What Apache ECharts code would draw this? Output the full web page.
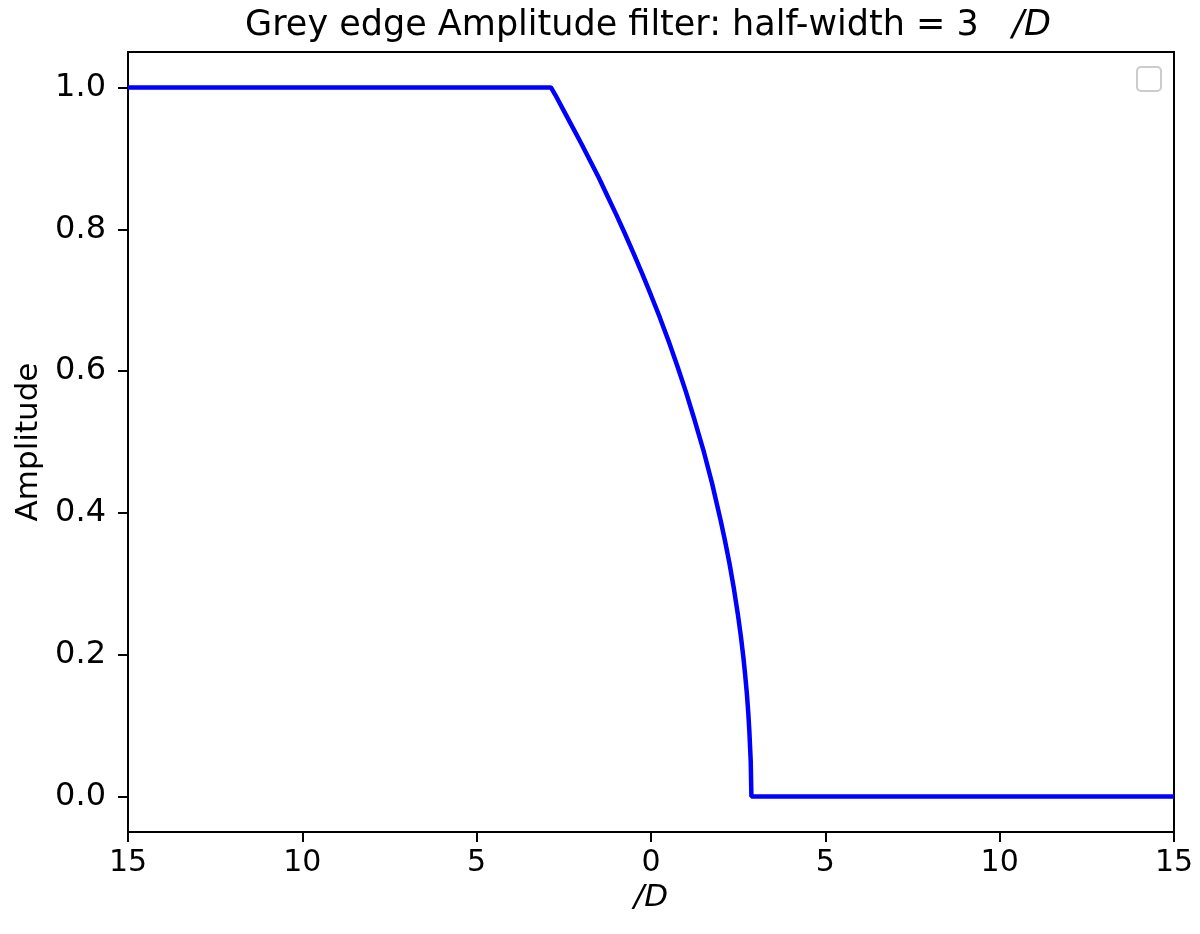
<!DOCTYPE html>
<html>
<head>
<meta charset="utf-8">
<script src="https://cdn.jsdelivr.net/npm/echarts@6/dist/echarts.min.js"></script>
<style>html,body{margin:0;padding:0;background:#fff}#c{width:1200px;height:934px}</style>
</head>
<body>
<div id="c"></div>
<script>
// Data
const xValues = [-15, -2.87, -2.75, -2.5, -2.25, -2.0, -1.75, -1.5, -1.25, -1.0, -0.75, -0.5, -0.25, 0.0, 0.25, 0.5, 0.75, 1.0, 1.25, 1.5, 1.75, 2.0, 2.125, 2.25, 2.375, 2.5, 2.58, 2.65, 2.7, 2.75, 2.79, 2.82, 2.86, 2.88, 15];
const amplitude = [1.0, 1.0, 0.990, 0.967, 0.944, 0.921, 0.897, 0.873, 0.847, 0.821, 0.794, 0.766, 0.737, 0.707, 0.676, 0.643, 0.608, 0.571, 0.531, 0.489, 0.442, 0.389, 0.360, 0.329, 0.294, 0.254, 0.225, 0.196, 0.172, 0.145, 0.118, 0.093, 0.05, 0.0, 0.0];
const yTicks = [0.0, 0.2, 0.4, 0.6, 0.8, 1.0];
const xTicks = [-15, -10, -5, 0, 5, 10, 15];

const chart = echarts.init(document.getElementById('c'), null, {renderer: 'canvas'});
const font = 'DejaVu Sans';
const pts = xValues.map((x, i) => [x, amplitude[i]]);
chart.setOption({
  animation: false,
  backgroundColor: '#fff',
  title: {
    text: '{n|Grey edge Amplitude filter: half-width = 3   }{i|/D}',
    left: 643, textAlign: 'center', top: 3,
    textStyle: {
      fontWeight: 'normal',
      rich: {
        n: {fontFamily: font, fontSize: 35, color: '#000', fontWeight: 'normal'},
        i: {fontFamily: font, fontSize: 35, color: '#000', fontWeight: 'normal', fontStyle: 'italic'}
      }
    }
  },
  grid: {left: 128, right: 26, top: 52, bottom: 102, show: true, borderColor: '#000', borderWidth: 2, containLabel: false},
  xAxis: {
    type: 'value', min: -15, max: 15, interval: 5,
    name: '/D', nameLocation: 'middle', nameGap: 36,
    nameTextStyle: {fontFamily: font, fontSize: 31, color: '#000', fontStyle: 'italic'},
    axisLine: {show: true, onZero: false, lineStyle: {color: '#000', width: 2}},
    axisTick: {show: true, length: 10, customValues: xTicks, lineStyle: {color: '#000', width: 2}},
    axisLabel: {fontFamily: font, fontSize: 30, color: '#000', margin: 16, customValues: xTicks,
      formatter: v => String(Math.abs(v))},
    splitLine: {show: false}
  },
  yAxis: {
    type: 'value', min: -0.05, max: 1.05,
    name: 'Amplitude', nameLocation: 'middle', nameGap: 84, nameRotate: 90,
    nameTextStyle: {fontFamily: font, fontSize: 31, color: '#000'},
    axisLine: {show: true, onZero: false, lineStyle: {color: '#000', width: 2}},
    axisTick: {show: true, length: 10, customValues: yTicks, lineStyle: {color: '#000', width: 2}},
    axisLabel: {fontFamily: font, fontSize: 32, color: '#000', margin: 22, customValues: yTicks,
      formatter: v => v.toFixed(1)},
    splitLine: {show: false}
  },
  graphic: [{
    type: 'rect', left: 1136, top: 66,
    shape: {width: 24, height: 24, r: 4},
    style: {fill: '#fff', stroke: '#cccccc', lineWidth: 2}
  }],
  series: [{
    type: 'line', data: pts, showSymbol: false, symbol: 'none',
    lineStyle: {color: '#0000ff', width: 4.5}, clip: true
  }]
});
</script>
</body>
</html>
